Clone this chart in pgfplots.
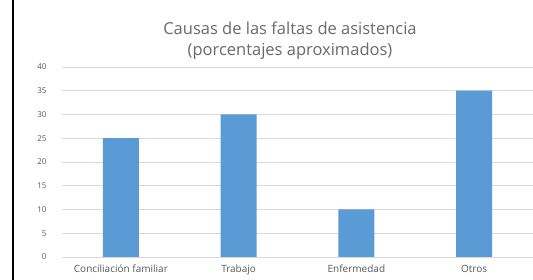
\documentclass[border=0pt]{standalone}
\usepackage{pgfplots}
\pgfplotsset{compat=1.18}
\usepackage{fontspec}
\setmainfont{Open Sans}
\definecolor{barblue}{HTML}{5B9BD5}
\definecolor{gridgray}{HTML}{D9D9D9}
\definecolor{txtgray}{HTML}{595959}
\definecolor{titlegray}{HTML}{6A6A6A}
\begin{document}
\begin{tikzpicture}[x=1pt,y=1pt]
\fill[white] (0,0) rectangle (533,280);
\draw[black,line width=2.2pt] (13,0) -- (13,280);
\node[titlegray,font=\fontsize{16.5}{21}\selectfont,align=center] at (290,239) {Causas de las faltas de asistencia\\(porcentajes aproximados)};
\begin{axis}[
  at={(62pt,23pt)}, anchor=south west,
  scale only axis, width=471pt, height=190pt,
  ymin=0, ymax=40, ytick={0,5,...,40},
  xmin=-0.5, xmax=3.5,
  xtick=data,
  xticklabels={Conciliación familiar,Trabajo,Enfermedad,Otros},
  axis line style={draw=none},
  major tick length=0pt,
  ymajorgrids, grid style={gridgray,line width=0.7pt},
  tick label style={txtgray,font=\fontsize{8}{9}\selectfont},
  xticklabel style={font=\fontsize{10}{11}\selectfont, anchor=base, yshift=-16pt},
  /pgf/number format/assume math mode=true,
  yticklabel style={xshift=-12pt},
  clip=false,
]
\addplot[ybar, bar width=36pt, fill=barblue, draw=none] coordinates {(0,25) (1,30) (2,10) (3,35)};
\end{axis}
\pgfresetboundingbox
\useasboundingbox (0,0) rectangle (533,280);
\end{tikzpicture}
\end{document}
